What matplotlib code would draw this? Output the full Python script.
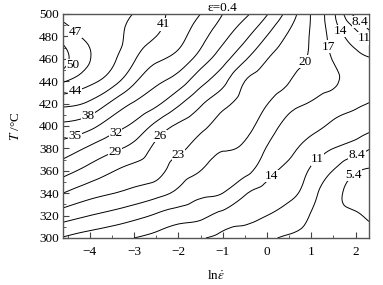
import numpy as np
import matplotlib
matplotlib.use('Agg')
import matplotlib.pyplot as plt
import matplotlib.tri as mtri
from matplotlib.ticker import MultipleLocator

plt.rcParams['font.family'] = 'serif'
plt.rcParams['font.serif'] = ['Liberation Serif', 'DejaVu Serif']
plt.rcParams['mathtext.fontset'] = 'stix'

# ln(strain rate) from ln(0.01) to ln(10), temperature in C
ln_rate = [-4.605, -4.0, -3.5, -3.0, -2.5, -2.0, -1.5, -1.0, -0.5, 0.0, 0.5, 1.0, 1.5, 2.0, 2.303]
temps = [300, 320, 340, 360, 380, 400, 420, 440, 460, 480, 500]

# dissipation efficiency (%), one row per temperature
eta = [
    [16.8, 15.5, 14.8, 14.0, 13.1, 12.2, 11.2, 10.5, 9.6, 8.8, 8.1, 7.6, 7.0, 6.8, 6.3],
    [21.4, 20.0, 19.0, 17.9, 16.6, 15.4, 14.7, 13.0, 12.0, 11.0, 9.9, 8.2, 6.2, 5.6, 5.1],
    [26.0, 24.1, 23.1, 22.1, 21.0, 19.3, 17.7, 17.0, 14.3, 12.9, 11.7, 9.4, 6.3, 4.8, 4.6],
    [30.1, 27.9, 26.2, 25.0, 24.0, 21.5, 20.0, 18.6, 18.0, 14.9, 13.2, 10.6, 8.3, 5.7, 5.1],
    [33.6, 31.5, 29.7, 28.0, 25.3, 23.5, 21.8, 20.2, 19.6, 16.8, 14.7, 12.7, 11.0, 9.8, 8.6],
    [37.3, 35.9, 33.4, 31.3, 28.1, 25.5, 23.8, 21.8, 20.8, 18.5, 16.1, 14.9, 13.4, 12.4, 11.8],
    [41.8, 40.4, 37.4, 34.7, 32.6, 29.5, 26.4, 23.8, 21.9, 20.1, 17.9, 16.8, 15.6, 14.5, 13.9],
    [47.3, 44.8, 42.3, 38.5, 35.6, 33.6, 30.0, 26.9, 23.0, 21.6, 20.1, 18.3, 17.4, 15.8, 15.9],
    [51.0, 47.1, 44.6, 41.3, 38.6, 36.9, 33.7, 30.2, 26.4, 23.1, 21.3, 19.5, 16.8, 15.0, 14.3],
    [48.8, 46.4, 45.3, 42.7, 41.0, 39.0, 36.1, 32.9, 29.7, 25.9, 22.5, 19.7, 15.8, 12.2, 9.6],
    [46.3, 45.8, 45.0, 43.9, 41.9, 39.9, 38.0, 35.0, 32.6, 29.2, 24.7, 19.8, 14.6, 7.5, 6.3],
]

levels = [5.4, 8.4, 11, 14, 17, 20, 23, 26, 29, 32, 35, 38, 41, 44, 47, 50]

# where the contour values are written on the map
label_spots = [
    (-4.27, 486), (-4.42, 452), (-4.31, 428), (-2.28, 490), (-4.04, 408),
    (-4.33, 390), (-3.43, 395), (-3.43, 377), (-2.46, 393), (-2.01, 375),
    (0.90, 457), (1.42, 471), (1.63, 484), (2.10, 475), (2.08, 492),
    (0.14, 354), (1.13, 371), (2.06, 371), (1.99, 354),
]

# smooth the read-off grid with matplotlib's cubic tri refiner
# (done in scaled units so both axes weigh about the same)
t_scale = 200 / 6.908
X, Y = np.meshgrid(ln_rate, temps)
tri = mtri.Triangulation(X.ravel(), Y.ravel() / t_scale)
refiner = mtri.UniformTriRefiner(tri)
fine, z_fine = refiner.refine_field(np.array(eta).ravel(), subdiv=3)
fine = mtri.Triangulation(fine.x, fine.y * t_scale, fine.triangles)

fig = plt.figure(figsize=(3.83, 2.85), dpi=100)
ax = fig.add_axes([0.1645, 0.165, 0.799, 0.786])

cs = ax.tricontour(fine, z_fine, levels=levels, colors='black', linewidths=0.7)
labels = ax.clabel(cs, fmt='%g', fontsize=9.5, inline=False, manual=label_spots)
for t in labels:
    t.set_rotation(0)
    t.set_bbox(dict(facecolor='white', edgecolor='none', pad=0.2))
    # the tiny 50 loop sits on the edge, keep its label inside the frame
    if t.get_text() == '50':
        t.set_x(-4.38)

ax.set_xlim(-4.605, 2.303)
ax.set_ylim(300, 500)
ax.xaxis.set_major_locator(MultipleLocator(1))
ax.xaxis.set_minor_locator(MultipleLocator(0.5))
ax.yaxis.set_major_locator(MultipleLocator(20))
ax.yaxis.set_minor_locator(MultipleLocator(10))
ax.tick_params(which='both', direction='in', top=False, right=False, labelsize=9.5, color='#444444')
ax.tick_params(which='major', length=4, width=0.8)
ax.tick_params(which='minor', length=2, width=0.6)
ax.tick_params(axis='x', pad=6)
ax.tick_params(axis='y', pad=3)
for s in ax.spines.values():
    s.set_color('#555555')
    s.set_linewidth(1.0)

ax.set_xlabel(r'ln$\dot{\varepsilon}$', fontsize=9.5, labelpad=8)
ax.set_ylabel(r'$T$ /°C', fontsize=9.5, labelpad=12)
ax.text(0.52, 1.0, 'ε=0.4', transform=ax.transAxes, ha='center', va='bottom', fontsize=9.5)

fig.savefig('out.png', dpi=100)
